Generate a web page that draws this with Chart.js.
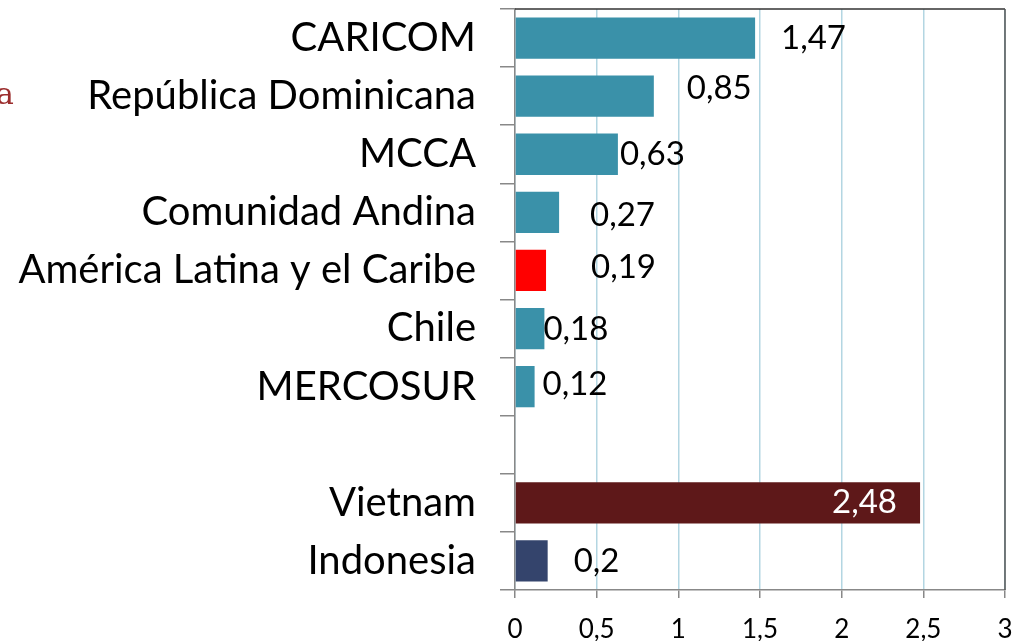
<!DOCTYPE html>
<html>
<head>
<meta charset="utf-8">
<script src="https://cdn.jsdelivr.net/npm/chart.js@4/dist/chart.umd.min.js"></script>
<style>
  html, body { margin: 0; padding: 0; background: #ffffff; }
  #wrap { position: relative; width: 1023px; height: 641px; }
  #stray { position: absolute; left: -4px; top: 76px; font-family: "DejaVu Serif", "Liberation Serif", serif; font-size: 30px; color: #9b2d2d; }
</style>
</head>
<body>
<div id="wrap">
  <canvas id="c" width="1023" height="641"></canvas>
  <div id="stray">a</div>
</div>
<script>
const categories = ["CARICOM", "República Dominicana", "MCCA", "Comunidad Andina", "América Latina y el Caribe", "Chile", "MERCOSUR", "", "Vietnam", "Indonesia"];
const values = [1.47, 0.85, 0.63, 0.27, 0.19, 0.18, 0.12, null, 2.48, 0.2];
const valueLabels = ["1,47", "0,85", "0,63", "0,27", "0,19", "0,18", "0,12", "", "2,48", "0,2"];
const xTicks = [0, 0.5, 1, 1.5, 2, 2.5, 3];
const xTickLabels = ["0", "0,5", "1", "1,5", "2", "2,5", "3"];

const barColors = ["#3a91a9", "#3a91a9", "#3a91a9", "#3a91a9", "#ff0000", "#3a91a9", "#3a91a9", "#3a91a9", "#5e1819", "#34446c"];
// label placement offsets (px) relative to bar end: [dx, dy]
const labelOffsets = [[26, 0], [33, -8], [2, 0], [31, 3], [45, -3], [-1, 1], [8, -2], [0, 0], [-88, 0], [26, 0]];
const labelColors = ["#000", "#000", "#000", "#000", "#000", "#000", "#000", "#000", "#fff", "#000"];

const FONT = "Lato, 'Open Sans', sans-serif";

const frame = {
  id: 'frame',
  afterDatasetsDraw(chart) {
    const {ctx, chartArea: a} = chart;
    ctx.save();
    ctx.lineWidth = 1.5;
    ctx.strokeStyle = '#333333';
    ctx.beginPath();
    ctx.moveTo(a.left, a.top);
    ctx.lineTo(a.right, a.top);
    ctx.stroke();
    ctx.strokeStyle = '#555555';
    ctx.beginPath();
    ctx.moveTo(a.right, a.top);
    ctx.lineTo(a.right, a.bottom);
    ctx.stroke();
    ctx.restore();
  }
};

const valueLabelPlugin = {
  id: 'valueLabels',
  afterDatasetsDraw(chart) {
    const {ctx} = chart;
    const meta = chart.getDatasetMeta(0);
    ctx.save();
    ctx.font = "33px " + FONT;
    ctx.textBaseline = 'middle';
    ctx.textAlign = 'left';
    meta.data.forEach((bar, i) => {
      if (values[i] == null) return;
      const off = labelOffsets[i];
      ctx.fillStyle = labelColors[i];
      ctx.fillText(valueLabels[i], bar.x + off[0], bar.y + off[1]);
    });
    ctx.restore();
  }
};

new Chart(document.getElementById('c'), {
  type: 'bar',
  data: {
    labels: categories,
    datasets: [{
      data: values,
      backgroundColor: barColors,
      borderWidth: 0,
      barPercentage: 0.71,
      categoryPercentage: 1.0
    }]
  },
  options: {
    indexAxis: 'y',
    responsive: false,
    animation: false,
    devicePixelRatio: 1,
    layout: { padding: { top: 9, right: 18, bottom: 0, left: 0 } },
    plugins: { legend: { display: false }, tooltip: { enabled: false } },
    scales: {
      x: {
        min: 0, max: 3,
        afterBuildTicks(scale) { scale.ticks = xTicks.map(v => ({ value: v })); },
        afterFit(scale) { scale.height = 51; scale.paddingLeft = 0; scale.paddingRight = 0; },
        ticks: {
          callback: (v, i) => xTickLabels[i],
          font: { family: FONT, size: 26 },
          color: '#000',
          padding: 16,
          maxRotation: 0
        },
        grid: { color: '#b3d6e2', lineWidth: 1.5, tickColor: '#888888', tickLength: 8 },
        border: { color: '#888888', width: 1.5 }
      },
      y: {
        afterFit(scale) { scale.width = 515; scale.paddingTop = 0; scale.paddingBottom = 0; },
        ticks: {
          font: { family: FONT, size: 40 },
          color: '#000',
          padding: 24,
          autoSkip: false
        },
        grid: { drawOnChartArea: false, drawTicks: true, tickLength: 15, color: '#888888', lineWidth: 1.5, offset: true },
        border: { color: '#888888', width: 1.5 }
      }
    }
  },
  plugins: [frame, valueLabelPlugin]
});
</script>
</body>
</html>
